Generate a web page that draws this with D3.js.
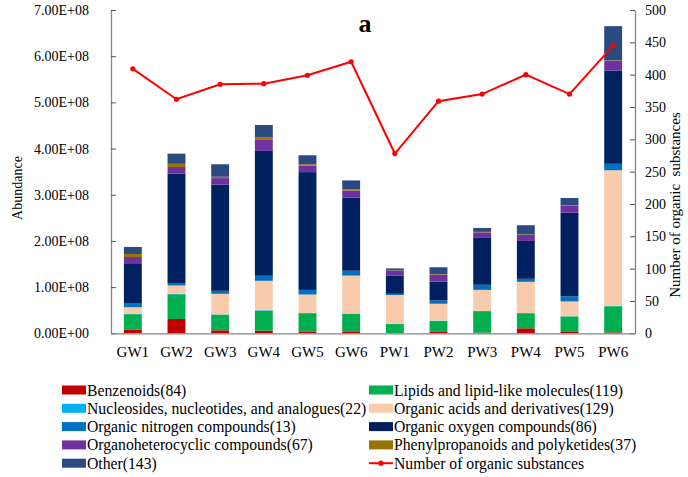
<!DOCTYPE html>
<html>
<head>
<meta charset="utf-8">
<script src="https://cdn.jsdelivr.net/npm/d3@7"></script>
<style>
  html, body { margin: 0; padding: 0; background: #fff; }
  svg { display: block; font-family: "Liberation Serif", "Times New Roman", serif; }
</style>
</head>
<body>
<svg id="chart" width="688" height="477"></svg>
<script>
// Sampling sites
const sites = ["GW1", "GW2", "GW3", "GW4", "GW5", "GW6", "PW1", "PW2", "PW3", "PW4", "PW5", "PW6"];

// Abundance of each class per site, in units of 1e6
const benzenoids       = [7.5, 31, 6.5, 5.5, 3, 4.3, 0.3, 3, 1.3, 10.8, 4.3, 2];
const lipids           = [33.8, 53.5, 34, 43.5, 40.5, 37.7, 19.7, 24, 46.7, 32.7, 32.2, 56.5];
const nucleosides      = [0.5, 1, 0.5, 1, 0.8, 0.8, 0.5, 0.5, 0.5, 0.5, 0.5, 1];
const organicAcids     = [14.7, 18, 44.5, 63.7, 39.7, 82.2, 62.5, 36.5, 45.5, 67.5, 32, 293.5];
const organicNitrogen  = [7.8, 5.2, 6.5, 10.8, 10, 10.4, 2.5, 7, 11, 6.5, 11, 14];
const organicOxygen    = [85.7, 237.3, 230, 270.5, 255, 158.6, 39, 41, 101.5, 82, 181, 202];
const organohetero     = [15.2, 14, 14, 25, 14, 15, 11.5, 15, 12.1, 13, 15, 21];
const phenylpropanoids = [6.5, 7, 3, 4, 3, 2.5, 0.5, 1, 1, 1, 1, 1];
const other            = [15.3, 22, 27, 27, 19.5, 19.5, 4, 15, 8.4, 20, 16, 74];
const UNIT = 1e6;

// Number of organic substances detected per site
const substanceCount = [409, 362, 385, 386, 399, 420, 278, 359, 370, 400, 370, 445];

// Legend entries (stacking order, bottom to top)
const classNames = [
  "Benzenoids(84)",
  "Lipids and lipid-like molecules(119)",
  "Nucleosides, nucleotides, and analogues(22)",
  "Organic acids and derivatives(129)",
  "Organic nitrogen compounds(13)",
  "Organic oxygen compounds(86)",
  "Organoheterocyclic compounds(67)",
  "Phenylpropanoids and polyketides(37)",
  "Other(143)"
];
const lineName = "Number of organic substances";

// Axis ticks
const leftTicks  = [0, 1e8, 2e8, 3e8, 4e8, 5e8, 6e8, 7e8];
const leftTickLabels = ["0.00E+00", "1.00E+08", "2.00E+08", "3.00E+08", "4.00E+08", "5.00E+08", "6.00E+08", "7.00E+08"];
const rightTicks = [0, 50, 100, 150, 200, 250, 300, 350, 400, 450, 500];

const classColors = ["#c00000", "#00b050", "#00b0f0", "#f8cbad", "#0070c0", "#002060", "#7030a0", "#977400", "#2b4a80"];
const lineColor = "#ff0000";

const seriesValues = [benzenoids, lipids, nucleosides, organicAcids, organicNitrogen,
                      organicOxygen, organohetero, phenylpropanoids, other];

const rows = sites.map((s, i) => {
  const r = { site: s };
  classNames.forEach((c, k) => { r[c] = seriesValues[k][i] * UNIT; });
  return r;
});

const svg = d3.select("#chart");
const plot = { left: 111, right: 635, top: 10, bottom: 333.3 };

const x = d3.scaleBand().domain(sites).range([plot.left, plot.right])
  .paddingInner(0.59).paddingOuter(0.295);
const y = d3.scaleLinear().domain([0, 7e8]).range([plot.bottom, plot.top]);
const y2 = d3.scaleLinear().domain([0, 500]).range([plot.bottom, plot.top]);
const color = d3.scaleOrdinal().domain(classNames).range(classColors);

const stacked = d3.stack().keys(classNames)(rows);

// Stacked bars
svg.append("g").selectAll("g").data(stacked).join("g")
  .attr("fill", d => color(d.key))
  .selectAll("rect").data(d => d).join("rect")
  .attr("x", d => x(d.data.site))
  .attr("width", x.bandwidth())
  .attr("y", d => y(d[1]))
  .attr("height", d => Math.max(0, y(d[0]) - y(d[1])));

const axisColor = "#868686";

// Left axis
const gl = svg.append("g").attr("transform", `translate(${plot.left},0)`)
  .call(d3.axisLeft(y).tickValues(leftTicks).tickFormat((d, i) => leftTickLabels[i])
    .tickSizeInner(-5).tickSizeOuter(0).tickPadding(22));
// Right axis
const gr = svg.append("g").attr("transform", `translate(${plot.right},0)`)
  .call(d3.axisRight(y2).tickValues(rightTicks)
    .tickSizeInner(-5).tickSizeOuter(0).tickPadding(10));
// Bottom axis
const gb = svg.append("g").attr("transform", `translate(0,${plot.bottom})`)
  .call(d3.axisBottom(x).tickSize(0).tickPadding(13));

[gl, gr, gb].forEach(g => {
  g.select(".domain").attr("stroke", axisColor).attr("stroke-width", 1.3);
  g.selectAll(".tick line").attr("stroke", "#555");
  g.selectAll("text").attr("fill", "#000").attr("font-family", "Liberation Serif, serif");
});
gl.selectAll("text").attr("font-size", 14);
gr.selectAll("text").attr("font-size", 14);
gb.selectAll("text").attr("font-size", 15);

// Substance count line
const line = d3.line().x(d => x(d.site) + x.bandwidth() / 2).y(d => y2(d.v));
const lineData = sites.map((s, i) => ({ site: s, v: substanceCount[i] }));
svg.append("path").datum(lineData)
  .attr("fill", "none").attr("stroke", lineColor).attr("stroke-width", 2)
  .attr("d", line);
svg.append("g").selectAll("circle").data(lineData).join("circle")
  .attr("cx", d => x(d.site) + x.bandwidth() / 2)
  .attr("cy", d => y2(d.v))
  .attr("r", 2.6).attr("fill", lineColor);

// Axis titles
svg.append("text").attr("transform", "translate(22,188) rotate(-90)")
  .attr("text-anchor", "middle").attr("font-size", 14).text("Abundance");
svg.append("text").attr("transform", "translate(680,205) rotate(-90)")
  .attr("text-anchor", "middle").attr("font-size", 15)
  .attr("xml:space", "preserve").text("Number of organic  substances");

// Panel label
svg.append("text").attr("x", 365).attr("y", 32).attr("text-anchor", "middle")
  .attr("font-size", 26).attr("font-weight", "bold").text("a");

// Legend, two columns
const legendItems = classNames.map(c => ({ name: c, type: "rect" }))
  .concat([{ name: lineName, type: "line" }]);
const colX = [62, 369];
const rowY0 = 390, rowStep = 18.3;
const lg = svg.append("g").selectAll("g").data(legendItems).join("g")
  .attr("transform", (d, i) => `translate(${colX[i % 2]},${rowY0 + Math.floor(i / 2) * rowStep})`);
lg.filter(d => d.type === "rect").append("rect")
  .attr("x", 0).attr("y", -4.5).attr("width", 24).attr("height", 9)
  .attr("fill", d => color(d.name));
const ll = lg.filter(d => d.type === "line");
ll.append("line").attr("x1", 0).attr("x2", 24).attr("y1", 0).attr("y2", 0)
  .attr("stroke", lineColor).attr("stroke-width", 2);
ll.append("circle").attr("cx", 12).attr("cy", 0).attr("r", 2.6).attr("fill", lineColor);
lg.append("text").attr("x", 25).attr("y", 0).attr("dy", "0.35em")
  .attr("font-size", 15.7).text(d => d.name);
</script>
</body>
</html>
